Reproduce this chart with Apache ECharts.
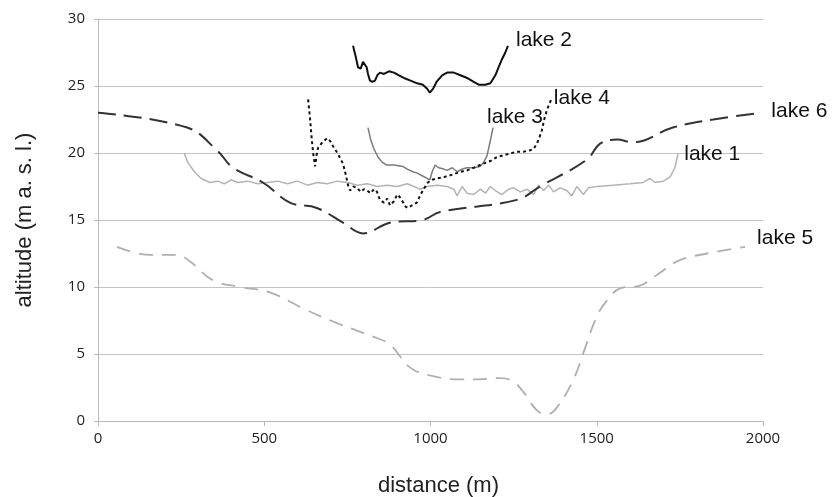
<!DOCTYPE html>
<html>
<head>
<meta charset="utf-8">
<script src="https://cdn.jsdelivr.net/npm/echarts@6/dist/echarts.min.js"></script>
<style>
  html, body { margin: 0; padding: 0; background: #fff; }
  #chart { width: 832px; height: 497px; }
</style>
</head>
<body>
<div id="chart"></div>
<script>
  // distance (m), altitude (m a. s. l.) pairs
  const lake1 = [[259,20.0],[270,19.3],[290,18.6],[310,18.1],[337,17.8],[360,17.9],[380,17.7],[400,18.0],[420,17.8],[450,17.9],[480,17.7],[510,17.8],[540,17.9],[570,17.7],[600,17.9],[630,17.6],[660,17.8],[690,17.7],[720,17.9],[750,17.8],[780,17.6],[810,17.7],[840,17.5],[870,17.6],[900,17.5],[930,17.7],[950,17.5],[968,17.3],[990,17.5],[1020,17.6],[1050,17.5],[1070,17.3],[1080,16.8],[1095,17.5],[1110,17.0],[1130,16.9],[1150,17.3],[1165,17.0],[1180,17.5],[1195,17.2],[1215,16.9],[1235,17.3],[1250,17.4],[1270,17.1],[1290,17.3],[1310,16.9],[1325,17.6],[1340,17.2],[1355,17.6],[1370,17.1],[1390,17.4],[1410,17.2],[1425,16.8],[1440,17.5],[1460,16.9],[1475,17.4],[1500,17.5],[1550,17.6],[1600,17.7],[1640,17.8],[1660,18.1],[1675,17.8],[1700,17.9],[1720,18.2],[1735,18.9],[1745,20.0]]
  const lake2 = [[767,28.0],[775,27.2],[782,26.4],[790,26.3],[797,26.8],[803,26.9],[808,26.4],[812,25.9],[818,25.4],[825,25.3],[833,25.4],[840,25.8],[848,26.0],[860,25.9],[875,26.1],[890,26.0],[905,25.8],[920,25.6],[940,25.4],[960,25.2],[977,25.1],[990,24.8],[998,24.5],[1008,24.8],[1018,25.3],[1035,25.8],[1050,26.0],[1070,26.0],[1090,25.8],[1110,25.6],[1130,25.3],[1145,25.1],[1165,25.1],[1180,25.2],[1195,25.8],[1205,26.4],[1215,27.0],[1225,27.5],[1233,28.0]]
  const lake3 = [[812,21.9],[820,21.0],[830,20.3],[842,19.7],[855,19.3],[869,19.1],[890,19.1],[917,19.0],[930,18.8],[947,18.6],[960,18.5],[975,18.3],[990,18.1],[998,18.0],[1005,18.6],[1014,19.1],[1025,18.9],[1040,18.8],[1050,18.7],[1065,18.9],[1080,18.6],[1095,18.8],[1110,18.9],[1130,18.9],[1149,19.0],[1160,19.3],[1170,19.8],[1179,20.8],[1188,21.9]]
  const lake4 = [[632,24.0],[638,22.5],[643,21.0],[647,20.0],[653,19.0],[657,19.8],[662,20.4],[675,20.8],[689,21.1],[698,20.9],[707,20.5],[720,20.0],[737,19.2],[745,18.4],[752,17.6],[758,17.2],[768,17.5],[779,17.4],[790,17.1],[800,17.3],[809,17.2],[820,17.0],[830,17.3],[839,17.1],[848,16.5],[860,16.3],[870,16.6],[878,16.1],[890,16.4],[900,16.9],[908,16.7],[918,16.3],[925,16.0],[932,15.9],[945,16.1],[959,16.3],[970,16.9],[982,17.4],[992,17.8],[1005,18.0],[1020,18.1],[1040,18.2],[1068,18.4],[1090,18.6],[1110,18.7],[1130,18.9],[1158,19.2],[1180,19.4],[1200,19.7],[1230,19.9],[1260,20.1],[1280,20.1],[1299,20.2],[1310,20.3],[1320,20.7],[1328,21.2],[1335,21.7],[1342,22.5],[1350,23.2],[1358,23.7],[1365,24.1]]
  const lake5 = [[57,13.0],[156,12.4],[237,12.4],[277,11.9],[346,10.5],[427,10.0],[517,9.6],[617,8.4],[719,7.3],[827,6.3],[878,5.7],[938,4.0],[998,3.4],[1089,3.1],[1128,3.1],[1210,3.2],[1245,3.0],[1275,2.3],[1320,0.8],[1350,0.5],[1380,1.0],[1430,3.1],[1460,5.1],[1500,7.8],[1531,9.0],[1570,9.9],[1630,10.1],[1681,10.9],[1750,12.0],[1832,12.5],[1946,13.0]]
  const lake6 = [[0,23.0],[268,21.9],[358,20.2],[406,18.9],[496,17.8],[577,16.3],[658,15.9],[737,14.8],[797,14.0],[878,14.8],[977,15.0],[1029,15.6],[1260,16.5],[1329,17.5],[1470,19.5],[1510,20.7],[1561,21.0],[1609,20.8],[1729,21.9],[1850,22.5],[1995,23.0]]

  const labelFont = "'Liberation Sans', Arial"
  const tickFont = "'Open Sans'"

  const chartInstance = echarts.init(document.getElementById('chart'), null, { renderer: 'canvas' })

  function lakeSeries(name, data, color, width, dash, smooth, offset){
    return {
      name: name,
      type: 'line',
      data: data,
      showSymbol: false,
      smooth: smooth,
      lineStyle: { color: color, width: width, type: dash },
      endLabel: {
        show: true,
        formatter: name,
        color: '#111',
        fontFamily: labelFont,
        fontSize: 21,
        offset: offset,
        distance: 4
      },
      emphasis: { disabled: true },
      animation: false
    }
  }

  const option = {
    backgroundColor: '#fff',
    animation: false,
    grid: { left: 98, right: 69, top: 19, bottom: 76, containLabel: false, outerBoundsMode: 'none' },
    xAxis: {
      type: 'value',
      min: 0,
      max: 2000,
      interval: 500,
      name: 'distance (m)',
      nameLocation: 'middle',
      nameGap: 54,
      nameTextStyle: { fontFamily: labelFont, fontSize: 22, color: '#222', padding: [0, 0, 0, 16] },
      axisLine: { show: true, lineStyle: { color: '#b8b8b8' } },
      axisTick: { show: true, length: 5, lineStyle: { color: '#b8b8b8' } },
      axisLabel: { fontFamily: tickFont, fontSize: 15, color: '#222', margin: 10, formatter: (v) => String(v) },
      splitLine: { show: false }
    },
    yAxis: {
      type: 'value',
      min: 0,
      max: 30,
      interval: 5,
      name: 'altitude (m a. s. l.)',
      nameLocation: 'middle',
      nameGap: 62,
      nameRotate: 90,
      nameTextStyle: { fontFamily: labelFont, fontSize: 22, color: '#222' },
      axisLine: { show: true, lineStyle: { color: '#b8b8b8' } },
      axisTick: { show: true, length: 4, lineStyle: { color: '#b8b8b8' } },
      axisLabel: { fontFamily: tickFont, fontSize: 15, color: '#222', margin: 13 },
      splitLine: { show: true, lineStyle: { color: '#c4c4c4', width: 1 } }
    },
    series: [
      lakeSeries('lake 1', lake1, '#b4b4b4', 1.5, 'solid', false, [2, 1]),
      lakeSeries('lake 2', lake2, '#111111', 2, 'solid', false, [4, -6]),
      lakeSeries('lake 3', lake3, '#7c7c7c', 1.5, 'solid', false, [-10, -10]),
      lakeSeries('lake 4', lake4, '#111111', 2, [3, 3], false, [-2, 0]),
      lakeSeries('lake 5', lake5, '#b0b0b0', 1.8, [14, 9], 0.4, [8, -9]),
      lakeSeries('lake 6', lake6, '#333333', 2, [18, 8], 0.4, [6, -2])
    ]
  }

  chartInstance.setOption(option)
</script>
</body>
</html>
